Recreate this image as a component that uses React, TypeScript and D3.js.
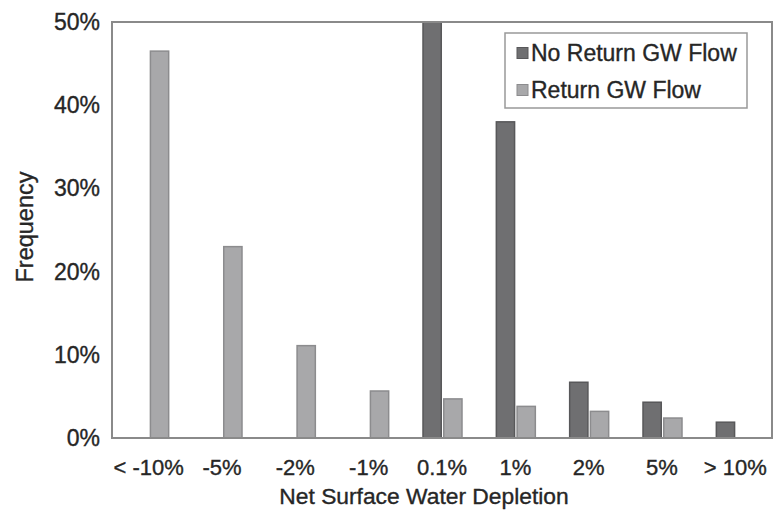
import React from "react";
import * as d3 from "d3";

const categories = ["< -10%", "-5%", "-2%", "-1%", "0.1%", "1%", "2%", "5%", "> 10%"];
const seriesNames = ["No Return GW Flow", "Return GW Flow"];
const noReturn = [0, 0, 0, 0, 50, 38, 6.7, 4.3, 1.9];
const withReturn = [46.5, 23, 11.1, 5.65, 4.7, 3.8, 3.2, 2.4, 0];
const yTicks = [0, 10, 20, 30, 40, 50];

const W = 773;
const H = 511;
const M = { left: 112, right: 772, top: 22, bottom: 438 };
const FONT = "'Liberation Sans', Arial, Helvetica, sans-serif";
const TXT = "#262626";
const fills = ["#6f6f71", "#a8a8aa"];
const strokes = ["#58585a", "#8c8c8e"];

export default function App() {
  const x = d3.scaleBand<string>().domain(categories).range([M.left, M.right]).padding(0);
  const bw = x.bandwidth();
  const xs = d3
    .scaleBand<string>()
    .domain(seriesNames)
    .range([bw / 2 - 19, bw / 2 + 20])
    .paddingInner(0.12);
  const y = d3.scaleLinear().domain([0, 50]).range([M.bottom, M.top]);
  const series = [noReturn, withReturn];
  const tstyle = { stroke: TXT, strokeWidth: 0.35 };

  return (
    <svg width={W} height={H} style={{ position: "absolute", left: 0, top: 0 }}>
      <rect x={0} y={0} width={W} height={H} fill="#fff" />
      <defs>
        <clipPath id="plotclip">
          <rect x={M.left} y={M.top} width={M.right - M.left} height={M.bottom - M.top} />
        </clipPath>
      </defs>
      <g clipPath="url(#plotclip)">
        {series.map((vals, si) =>
          vals.map((v, i) =>
            v > 0 ? (
              <rect
                key={`${si}-${i}`}
                x={(x(categories[i]) as number) + (xs(seriesNames[si]) as number)}
                y={y(v)}
                width={xs.bandwidth()}
                height={y(0) - y(v)}
                fill={fills[si]}
                stroke={strokes[si]}
                strokeWidth={1.5}
              />
            ) : null
          )
        )}
      </g>
      <rect
        x={M.left}
        y={M.top}
        width={M.right - M.left}
        height={M.bottom - M.top}
        fill="none"
        stroke="#8a8a8a"
        strokeWidth={2}
      />
      {yTicks.map((t) => (
        <text
          key={t}
          x={100}
          y={y(t)}
          dy="0.35em"
          textAnchor="end"
          fontFamily={FONT}
          fontSize={23}
          fill={TXT}
          {...tstyle}
        >
          {t}%
        </text>
      ))}
      {categories.map((c) => (
        <text
          key={c}
          x={(x(c) as number) + bw / 2}
          y={475}
          textAnchor="middle"
          fontFamily={FONT}
          fontSize={22}
          fill={TXT}
          {...tstyle}
        >
          {c}
        </text>
      ))}
      <text
        x={424}
        y={504}
        textAnchor="middle"
        fontFamily={FONT}
        fontSize={22.8}
        fill={TXT}
        {...tstyle}
      >
        Net Surface Water Depletion
      </text>
      <text
        transform={`translate(33, 227) rotate(-90)`}
        textAnchor="middle"
        fontFamily={FONT}
        fontSize={23.5}
        fill={TXT}
        {...tstyle}
      >
        Frequency
      </text>
      <g>
        <rect x={505} y={33} width={242} height={75} fill="#fff" stroke="#999" strokeWidth={1.5} />
        {seriesNames.map((s, i) => (
          <g key={s}>
            <rect
              x={517}
              y={(i === 0 ? 53 : 90) - 5.5}
              width={11}
              height={11}
              fill={fills[i]}
              stroke={strokes[i]}
              strokeWidth={1}
            />
            <text x={531} y={i === 0 ? 61 : 98} fontFamily={FONT} fontSize={23} fill={TXT} {...tstyle}>
              {s}
            </text>
          </g>
        ))}
      </g>
    </svg>
  );
}
